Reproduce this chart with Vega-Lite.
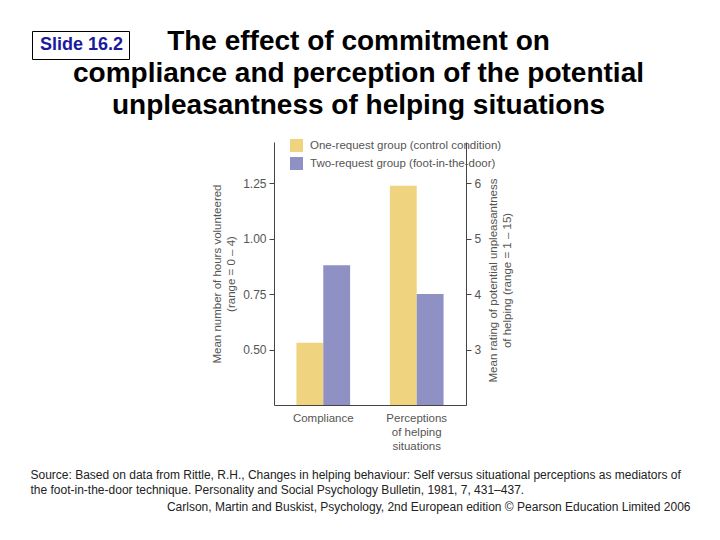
{
  "$schema": "https://vega.github.io/schema/vega-lite/v6.json",
  "width": 192,
  "height": 263,
  "autosize": {"type": "none"},
  "padding": {"left": 274, "top": 142, "right": 254, "bottom": 135},
  "background": "white",
  "config": {"view": {"stroke": null}, "font": "Liberation Sans"},
  "datasets": {
    "compliance": [
      {"measure": "Compliance", "group": "One-request group (control condition)", "value": 0.53},
      {"measure": "Compliance", "group": "Two-request group (foot-in-the-door)", "value": 0.88}
    ],
    "perceptions": [
      {"measure": "Perceptions of helping situations", "group": "One-request group (control condition)", "value": 5.95},
      {"measure": "Perceptions of helping situations", "group": "Two-request group (foot-in-the-door)", "value": 4.0}
    ],
    "slide": [{"label": "Slide 16.2"}]
  },
  "title": {
    "text": ["The effect of commitment on", "compliance and perception of the potential", "unpleasantness of helping situations"],
    "font": "Liberation Sans",
    "fontSize": 28,
    "fontWeight": "bold",
    "color": "black",
    "lineHeight": 32,
    "anchor": "middle",
    "frame": "group",
    "offset": 0,
    "dx": -11.5,
    "dy": 89
  },
  "layer": [
    {
      "data": {"name": "compliance"},
      "mark": {"type": "bar", "clip": true},
      "encoding": {
        "x": {
          "field": "measure", "type": "nominal",
          "scale": {"domain": ["Compliance", "Perceptions of helping situations"], "paddingInner": 0.4255, "paddingOuter": 0.24},
          "axis": {
            "orient": "bottom", "labelAngle": 0, "ticks": false, "domainColor": "#444",
            "labelPadding": 7, "labelFont": "Liberation Sans", "labelFontSize": 11.5, "labelColor": "#555", "labelLineHeight": 14,
            "labelExpr": "datum.label == 'Compliance' ? 'Compliance' : ['Perceptions', 'of helping', 'situations']",
            "title": ["Source: Based on data from Rittle, R.H., Changes in helping behaviour: Self versus situational perceptions as mediators of", "the foot-in-the-door technique. Personality and Social Psychology Bulletin, 1981, 7, 431–437."],
            "titleX": -244, "titleY": 73, "titleAlign": "left", "titleBaseline": "alphabetic", "titleAngle": 0,
            "titleFont": "Liberation Sans", "titleFontSize": 12, "titleFontWeight": "normal", "titleColor": "#222", "titleLineHeight": 15.5
          }
        },
        "xOffset": {"field": "group", "type": "nominal", "scale": {"domain": ["One-request group (control condition)", "Two-request group (foot-in-the-door)"], "paddingInner": 0, "paddingOuter": 0}},
        "y": {
          "field": "value", "type": "quantitative",
          "scale": {"domain": [0.25, 1.435], "nice": false, "zero": false},
          "axis": {
            "orient": "left", "values": [0.5, 0.75, 1, 1.25], "format": ".2f", "grid": false,
            "domainColor": "#444", "tickColor": "#444", "tickSize": 5, "labelPadding": 3,
            "labelFont": "Liberation Sans", "labelFontSize": 12, "labelColor": "#555",
            "title": ["Mean number of hours volunteered", "(range = 0 – 4)"],
            "titleFont": "Liberation Sans", "titleFontSize": 11.5, "titleFontWeight": "normal", "titleColor": "#555",
            "titleLineHeight": 14.5, "titlePadding": 6
          }
        },
        "color": {
          "field": "group", "type": "nominal",
          "scale": {"domain": ["One-request group (control condition)", "Two-request group (foot-in-the-door)"], "range": ["#F0D37E", "#8F90C4"]},
          "legend": {"orient": "none", "legendX": 16, "legendY": -3, "title": null, "symbolType": "square", "symbolSize": 169, "symbolStrokeWidth": 0, "labelFont": "Liberation Sans", "labelFontSize": 11.5, "labelColor": "#555", "labelOffset": 7, "labelLimit": 400, "rowPadding": 5, "padding": 0}
        }
      }
    },
    {
      "data": {"name": "perceptions"},
      "mark": {"type": "bar", "clip": true},
      "encoding": {
        "x": {
          "field": "measure", "type": "nominal",
          "scale": {"domain": ["Compliance", "Perceptions of helping situations"], "paddingInner": 0.4255, "paddingOuter": 0.24},
          "axis": {
            "orient": "top", "labels": false, "ticks": false, "domain": false, "grid": false,
            "title": "Carlson, Martin and Buskist, Psychology, 2nd European edition © Pearson Education Limited 2006",
            "titleX": 416, "titleY": 368, "titleAlign": "right", "titleBaseline": "alphabetic", "titleAngle": 0,
            "titleFont": "Liberation Sans", "titleFontSize": 12, "titleFontWeight": "normal", "titleColor": "#222"
          }
        },
        "xOffset": {"field": "group", "type": "nominal", "scale": {"domain": ["One-request group (control condition)", "Two-request group (foot-in-the-door)"], "paddingInner": 0, "paddingOuter": 0}},
        "y": {
          "field": "value", "type": "quantitative",
          "scale": {"domain": [2, 6.74], "nice": false, "zero": false},
          "axis": {
            "orient": "right", "values": [3, 4, 5, 6], "format": "d", "grid": false,
            "domainColor": "#444", "tickColor": "#444", "tickSize": 5, "labelPadding": 3,
            "labelFont": "Liberation Sans", "labelFontSize": 12, "labelColor": "#555",
            "title": ["Mean rating of potential unpleasantness", "of helping (range = 1 – 15)"],
            "titleAngle": 270, "titleBaseline": "top", "titleX": 21, "titleY": 138,
            "titleFont": "Liberation Sans", "titleFontSize": 11.5, "titleFontWeight": "normal", "titleColor": "#555",
            "titleLineHeight": 14.5
          }
        },
        "color": {
          "field": "group", "type": "nominal",
          "scale": {"domain": ["One-request group (control condition)", "Two-request group (foot-in-the-door)"], "range": ["#F0D37E", "#8F90C4"]},
          "legend": {"orient": "none", "legendX": 16, "legendY": -3, "title": null, "symbolType": "square", "symbolSize": 169, "symbolStrokeWidth": 0, "labelFont": "Liberation Sans", "labelFontSize": 11.5, "labelColor": "#555", "labelOffset": 7, "labelLimit": 400, "rowPadding": 5, "padding": 0}
        }
      }
    },
    {
      "data": {"name": "slide"},
      "mark": {"type": "point", "opacity": 0},
      "encoding": {
        "shape": {
          "field": "label", "type": "nominal",
          "legend": {"orient": "none", "legendX": -242, "legendY": -111, "title": null, "strokeColor": "black", "fillColor": "white", "padding": 5, "symbolSize": 4, "symbolOpacity": 0, "symbolStrokeWidth": 0, "labelOffset": -15, "labelLimit": 300, "labelFont": "Liberation Sans", "labelFontSize": 18, "labelFontWeight": "bold", "labelColor": "#1a1a9c"}
        }
      }
    }
  ],
  "resolve": {"scale": {"x": "independent", "y": "independent"}}
}
